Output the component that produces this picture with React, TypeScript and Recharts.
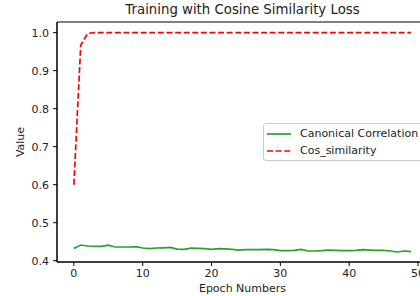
import { LineChart, Line, XAxis, YAxis, ReferenceArea } from "recharts";

const epochs = Array.from({ length: 50 }, (_, i) => i);

// values
const canonical = [
  0.4324, 0.4413, 0.4387, 0.4378, 0.4378, 0.441, 0.436, 0.436, 0.436, 0.437,
  0.4334, 0.4316, 0.4334, 0.434, 0.435, 0.4307, 0.430, 0.433, 0.4325, 0.432,
  0.430, 0.4316, 0.431, 0.430, 0.428, 0.429, 0.429, 0.429, 0.4297, 0.429,
  0.4263, 0.4263, 0.427, 0.4297, 0.4255, 0.4255, 0.4263, 0.428, 0.427, 0.4263,
  0.4263, 0.427, 0.429, 0.428, 0.427, 0.427, 0.4255, 0.4229, 0.4255, 0.424,
];
const cosSimilarity = [
  0.6, 0.967, 0.998, 1.0, 1.0, 1.0, 1.0, 1.0, 1.0, 1.0,
  1.0, 1.0, 1.0, 1.0, 1.0, 1.0, 1.0, 1.0, 1.0, 1.0,
  1.0, 1.0, 1.0, 1.0, 1.0, 1.0, 1.0, 1.0, 1.0, 1.0,
  1.0, 1.0, 1.0, 1.0, 1.0, 1.0, 1.0, 1.0, 1.0, 1.0,
  1.0, 1.0, 1.0, 1.0, 1.0, 1.0, 1.0, 1.0, 1.0, 1.0,
];
const xTicks = [0, 10, 20, 30, 40, 50];
const yTicks = [0.4, 0.5, 0.6, 0.7, 0.8, 0.9, 1.0];

const X_DOMAIN: [number, number] = [-2.45, 51.45];
const Y_DOMAIN: [number, number] = [0.3966, 1.028];

const FONT = "'DejaVu Sans', sans-serif";
const GREEN = "#2ca02c";
const RED = "#ff0000";
const DASH = "6 2.6";

const data = epochs.map((e, i) => ({
  epoch: e,
  canonical: canonical[i],
  cos: cosSimilarity[i],
}));

function LegendBox() {
  return (
    <div
      style={{
        position: "absolute",
        left: 263,
        top: 123,
        width: 175,
        height: 38,
        border: "1px solid #cccccc",
        borderRadius: 3,
        background: "rgba(255,255,255,0.8)",
        fontFamily: FONT,
        fontSize: 11,
        color: "#222",
        boxSizing: "border-box",
        paddingTop: 1,
      }}
    >
      {[
        { label: "Canonical Correlation", color: GREEN, dash: undefined },
        { label: "Cos_similarity", color: RED, dash: DASH },
      ].map((item) => (
        <div key={item.label} style={{ display: "flex", alignItems: "center", height: 17 }}>
          <svg width={34} height={10} style={{ marginLeft: 2 }}>
            <line
              x1={1}
              x2={25}
              y1={5}
              y2={5}
              stroke={item.color}
              strokeWidth={1.7}
              strokeDasharray={item.dash}
            />
          </svg>
          <span>{item.label}</span>
        </div>
      ))}
    </div>
  );
}

export default function App() {
  return (
    <div style={{ position: "absolute", left: 0, top: 0, width: 420, height: 296, overflow: "hidden", background: "#fff" }}>
      <div
        style={{
          position: "absolute",
          left: 57,
          width: 371,
          top: 1,
          textAlign: "center",
          fontFamily: FONT,
          fontSize: 13.3,
          lineHeight: "18px",
          color: "#222",
        }}
      >
        Training with Cosine Similarity Loss
      </div>
      <LineChart
        width={440}
        height={296}
        data={data}
        margin={{ top: 22, right: 12, bottom: 0, left: 0 }}
        style={{ position: "absolute", left: 0, top: 0 }}
      >
        <XAxis
          dataKey="epoch"
          type="number"
          domain={X_DOMAIN}
          ticks={xTicks}
          allowDataOverflow
          height={34}
          tickSize={4}
          tickMargin={3}
          stroke="#000"
          tick={{ fill: "#222", fontSize: 11, fontFamily: FONT }}
          label={{
            value: "Epoch Numbers",
            position: "insideBottom",
            offset: 4,
            style: { fill: "#222", fontSize: 11, fontFamily: FONT },
          }}
        />
        <YAxis
          type="number"
          domain={Y_DOMAIN}
          ticks={yTicks}
          allowDataOverflow
          width={57}
          tickSize={4}
          tickMargin={4}
          stroke="#000"
          tickFormatter={(v: number) => v.toFixed(1)}
          tick={{ fill: "#222", fontSize: 11, fontFamily: FONT }}
          label={{
            value: "Value",
            angle: -90,
            position: "insideLeft",
            offset: 20,
            style: { fill: "#222", fontSize: 11, fontFamily: FONT, textAnchor: "middle" },
          }}
        />
        <ReferenceArea
          x1={X_DOMAIN[0]}
          x2={X_DOMAIN[1]}
          y1={Y_DOMAIN[0]}
          y2={Y_DOMAIN[1]}
          fill="none"
          stroke="#000"
          strokeWidth={1}
        />
        <Line
          dataKey="canonical"
          name="Canonical Correlation"
          type="linear"
          stroke={GREEN}
          strokeWidth={1.7}
          dot={false}
          isAnimationActive={false}
        />
        <Line
          dataKey="cos"
          name="Cos_similarity"
          type="linear"
          stroke={RED}
          strokeWidth={1.7}
          strokeDasharray={DASH}
          dot={false}
          isAnimationActive={false}
        />
      </LineChart>
      <LegendBox />
    </div>
  );
}
